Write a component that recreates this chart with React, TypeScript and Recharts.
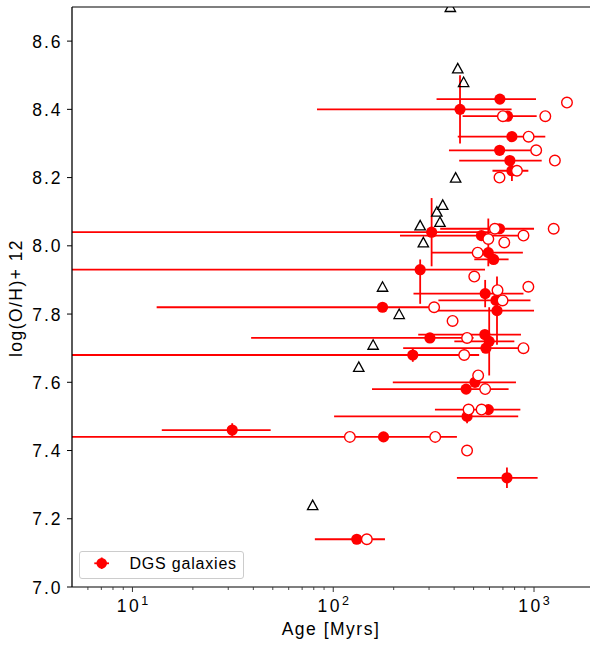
import React from 'react';
import { ScatterChart, Scatter, XAxis, YAxis, ErrorBar, ReferenceLine } from 'recharts';

const FONT = '"Liberation Sans", Arial, Helvetica, sans-serif';
const RED = '#ff0000';

// DGS galaxies (filled, with error bars); a lower age of 5 means the bar runs off the left edge
const dgsAge = [676, 428, 738, 776, 674, 758, 776, 309, 547, 673, 592, 629, 271, 571, 646, 654, 176, 303, 569, 598, 576, 249, 508, 459, 592, 464, 178, 31.4, 733, 131];
const dgsOH = [8.43, 8.40, 8.38, 8.32, 8.28, 8.25, 8.22, 8.04, 8.03, 8.05, 7.98, 7.96, 7.93, 7.86, 7.84, 7.81, 7.82, 7.73, 7.74, 7.72, 7.70, 7.68, 7.60, 7.58, 7.52, 7.50, 7.44, 7.46, 7.32, 7.14];
const dgsAgeLo = [327, 83, 441, 417, 377, 424, 621, 5, 215, 341, 310, 504, 5, 251, 334, 318, 13.2, 39, 265, 401, 223, 5, 198, 156, 321, 101, 5, 14, 413, 81];
const dgsAgeHi = [1023, 773, 1031, 1138, 1021, 1092, 937, 680, 850, 1000, 880, 747, 570, 886, 960, 1000, 305, 500, 861, 798, 880, 533, 813, 747, 855, 834, 413, 48.8, 1042, 181];
const dgsOHErrLo = [0, 0.10, 0, 0, 0, 0, 0.03, 0.10, 0, 0, 0.04, 0, 0.10, 0.04, 0, 0.10, 0, 0, 0, 0.10, 0, 0.02, 0, 0, 0, 0.02, 0, 0.02, 0.03, 0];
const dgsOHErrHi = [0, 0.10, 0, 0, 0, 0, 0.03, 0.10, 0, 0, 0.10, 0, 0.03, 0.04, 0, 0.10, 0, 0, 0, 0.10, 0, 0.02, 0, 0, 0, 0.02, 0, 0.02, 0.03, 0];

// open red circles
const openAge = [1459, 700, 1138, 940, 1025, 1270, 822, 673, 638, 1253, 886, 592, 711, 524, 504, 937, 658, 697, 318, 393, 464, 886, 449, 527, 571, 472, 548, 121, 322, 464, 147];
const openOH = [8.42, 8.38, 8.38, 8.32, 8.28, 8.25, 8.22, 8.20, 8.05, 8.05, 8.03, 8.02, 8.01, 7.98, 7.91, 7.88, 7.87, 7.84, 7.82, 7.78, 7.73, 7.70, 7.68, 7.62, 7.58, 7.52, 7.52, 7.44, 7.44, 7.40, 7.14];

// open black triangles
const triAge = [383, 417, 446, 407, 351, 328, 340, 271, 281, 176, 213, 158, 134, 79];
const triOH = [8.70, 8.52, 8.48, 8.20, 8.12, 8.10, 8.07, 8.06, 8.01, 7.88, 7.80, 7.71, 7.645, 7.24];

const xTicks = [6, 7, 8, 9, 10, 20, 30, 40, 50, 60, 70, 80, 90, 100, 200, 300, 400, 500, 600, 700, 800, 900, 1000];
const majorX = [10, 100, 1000];
const yTicks = [7.0, 7.2, 7.4, 7.6, 7.8, 8.0, 8.2, 8.4, 8.6];

const dgsData = dgsAge.map((a, i) => ({
  age: a,
  oh: dgsOH[i],
  ageErr: [a - dgsAgeLo[i], dgsAgeHi[i] - a],
  ohErr: [dgsOHErrLo[i], dgsOHErrHi[i]],
}));
const openData = openAge.map((a, i) => ({ age: a, oh: openOH[i] }));
const triData = triAge.map((a, i) => ({ age: a, oh: triOH[i] }));

const PLOT = { x: 72, y: 7, w: 518, h: 580 };

const XTick = (props: any) => {
  const { x, y, payload } = props;
  const v = payload.value;
  const major = majorX.includes(v);
  if (!major) {
    return <line x1={x} x2={x} y1={y} y2={y + 3} stroke="#333" strokeWidth={0.9} />;
  }
  const exp = Math.round(Math.log10(v));
  return (
    <g>
      <line x1={x} x2={x} y1={y} y2={y + 5} stroke="#333" strokeWidth={1} />
      <text x={x} y={y + 25.3} textAnchor="middle" fontFamily={FONT} fontSize={17.5} fill="#000">
        <tspan letterSpacing={2.5}>10</tspan>
        <tspan dy={-7} fontSize={12.5}>{exp}</tspan>
      </text>
    </g>
  );
};

const YTick = (props: any) => {
  const { x, y, payload } = props;
  return (
    <g>
      <line x1={x - 5} x2={x} y1={y} y2={y} stroke="#000" strokeWidth={1} />
      <text x={x - 9.5} y={y + 6.6} textAnchor="end" fontFamily={FONT} fontSize={17.5} letterSpacing={2} fill="#000">
        {Number(payload.value).toFixed(1)}
      </text>
    </g>
  );
};

const XLabel = (props: any) => {
  const vb = props.viewBox || { x: 72, y: 587, width: 518 };
  return (
    <text x={vb.x + vb.width / 2} y={vb.y + 48} textAnchor="middle" fontFamily={FONT} fontSize={17.5} letterSpacing={1.5} fill="#000">
      Age [Myrs]
    </text>
  );
};

const YLabel = (props: any) => {
  const vb = props.viewBox || { x: 0, y: 7, width: 72, height: 580 };
  const cx = 22;
  const cy = vb.y + vb.height / 2 + 1;
  return (
    <text x={cx} y={cy} transform={`rotate(-90, ${cx}, ${cy})`} textAnchor="middle" fontFamily={FONT} fontSize={17.5} letterSpacing={1.45} fill="#000">
      log(O/H)+ 12
    </text>
  );
};

const LegendBox = () => (
  <div
    style={{
      position: 'absolute',
      left: 79,
      top: 551,
      width: 165,
      height: 28,
      boxSizing: 'border-box',
      border: '1px solid #cccccc',
      borderRadius: 3,
      background: 'rgba(255,255,255,0.85)',
      fontFamily: FONT,
    }}
  >
    <svg width={48} height={26} style={{ position: 'absolute', left: 0, top: 0 }}>
      <line x1={14.3} x2={29} y1={11.3} y2={11.3} stroke={RED} strokeWidth={1.8} />
      <line x1={21.7} x2={21.7} y1={5.5} y2={17} stroke={RED} strokeWidth={1.8} />
      <circle cx={21.7} cy={11.3} r={5.3} fill={RED} />
    </svg>
    <span
      style={{
        position: 'absolute',
        left: 49.5,
        top: 3.5,
        fontSize: 16,
        lineHeight: '16px',
        letterSpacing: 0.8,
        color: '#000',
        whiteSpace: 'nowrap',
      }}
    >
      DGS galaxies
    </span>
  </div>
);

const filledShape = (p: any) => <circle cx={p.cx} cy={p.cy} r={5.6} fill={RED} />;
const openShape = (p: any) => <circle cx={p.cx} cy={p.cy} r={5.3} fill="#ffffff" stroke={RED} strokeWidth={1.4} />;
const triShape = (p: any) => {
  const id = `triclip-${Math.round(p.cx)}-${Math.round(p.cy)}`;
  return (
    <g>
      <defs>
        <clipPath id={id}>
          <rect x={PLOT.x} y={PLOT.y} width={PLOT.w} height={PLOT.h} />
        </clipPath>
      </defs>
      <polygon
        points={`${p.cx},${p.cy - 5} ${p.cx - 5.2},${p.cy + 4.5} ${p.cx + 5.2},${p.cy + 4.5}`}
        fill="none"
        stroke="#000"
        strokeWidth={1.3}
        clipPath={`url(#${id})`}
      />
    </g>
  );
};

export default function App() {
  return (
    <div style={{ position: 'absolute', left: 0, top: 0, width: 590, height: 646, background: '#fff' }}>
      <ScatterChart width={590} height={646} margin={{ top: 7, right: 0, bottom: 0, left: 0 }}>
        <XAxis
          type="number"
          dataKey="age"
          scale="log"
          domain={[5, 1900]}
          allowDataOverflow
          ticks={xTicks}
          interval={0}
          tick={<XTick />}
          tickLine={false}
          tickSize={0}
          tickMargin={0}
          axisLine={{ stroke: '#555', strokeWidth: 1.3 }}
          height={59}
          label={<XLabel />}
        />
        <YAxis
          type="number"
          dataKey="oh"
          domain={[7.0, 8.7]}
          allowDataOverflow
          ticks={yTicks}
          interval={0}
          tick={<YTick />}
          tickLine={false}
          tickSize={0}
          tickMargin={0}
          axisLine={{ stroke: '#000', strokeWidth: 1.3 }}
          width={72}
          label={<YLabel />}
        />
        <ReferenceLine y={8.7} stroke="#555" strokeWidth={1.3} />
        <Scatter data={dgsData} shape={filledShape} isAnimationActive={false}>
          <ErrorBar dataKey="ageErr" direction="x" width={0} stroke={RED} strokeWidth={1.8} isAnimationActive={false} />
          <ErrorBar dataKey="ohErr" direction="y" width={0} stroke={RED} strokeWidth={1.8} isAnimationActive={false} />
        </Scatter>
        <Scatter data={openData} shape={openShape} isAnimationActive={false} />
        <Scatter data={triData} shape={triShape} isAnimationActive={false} />
      </ScatterChart>
      <LegendBox />
    </div>
  );
}
